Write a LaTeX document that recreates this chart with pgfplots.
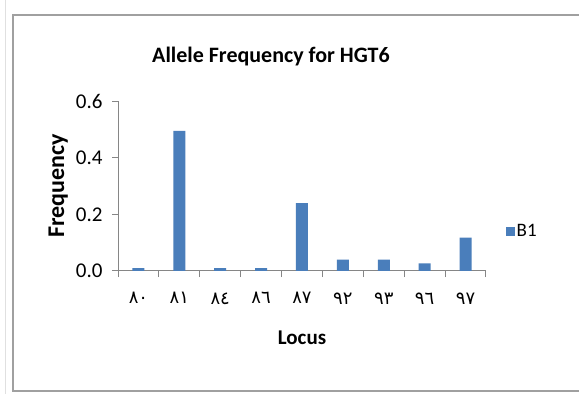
\documentclass[border=0pt]{standalone}
\usepackage{fontspec}
\setmainfont{Carlito}
\newfontfamily\arabicfont[Script=Arabic]{DejaVu Sans}
\usepackage{pgfplots}
\pgfplotsset{compat=1.18}
\definecolor{barblue}{RGB}{74,126,187}
\definecolor{axgray}{RGB}{134,134,134}
\definecolor{framegray}{RGB}{160,160,160}
\begin{document}
\begin{tikzpicture}[x=1pt,y=1pt]
\useasboundingbox (0,0) rectangle (579,394);
\clip (0,0) rectangle (579,394);
\fill[white] (0,0) rectangle (579,394);
\draw[black!12, line width=1pt] (5,0) -- (5,394);
\draw[framegray, line width=2.5pt] (13,3) rectangle (600,379);
\node[font=\fontsize{22}{24}\selectfont\bfseries] at (271,337) {Allele Frequency for HGT6};
\begin{axis}[
  at={(118pt,123pt)}, anchor=south west,
  scale only axis, width=368pt, height=170pt,
  xmin=-0.5, xmax=8.5, ymin=0, ymax=0.6,
  axis lines=left, axis line style={axgray, line width=1pt, -},
  ytick={0,0.2,0.4,0.6},
  yticklabels={0.0,0.2,0.4,0.6},
  xtick={0,...,8},
  xticklabels={{\arabicfont ٨٠},{\arabicfont ٨١},{\arabicfont ٨٤},{\arabicfont ٨٦},{\arabicfont ٨٧},{\arabicfont ٩٢},{\arabicfont ٩٣},{\arabicfont ٩٦},{\arabicfont ٩٧}},
  minor xtick={-0.5,0.5,...,8.5},
  major x tick style={draw=none},
  tick align=outside, tick pos=left,
  major tick length=6pt, minor tick length=6pt,
  tick style={axgray, line width=1pt},
  minor x tick style={axgray, line width=1pt},
  yticklabel style={font=\fontsize{21}{24}\selectfont, /pgf/number format/assume math mode=true, xshift=-6pt},
  xticklabel style={font=\fontsize{18}{20}\selectfont, yshift=-12pt},
  xlabel={\bfseries Locus}, ylabel={\bfseries Frequency},
  xlabel style={font=\fontsize{21}{24}\selectfont, yshift=-20pt},
  ylabel style={font=\fontsize{24}{26}\selectfont, yshift=1pt},
  ybar, bar width=12pt,
  legend style={at={(1.045,0.235)}, anchor=west, draw=none, fill=none, font=\fontsize{19}{20}\selectfont},
  legend image code/.code={\fill[barblue] (0pt,-4.5pt) rectangle (9pt,4.5pt);},
]
\addplot[fill=barblue, draw=none] coordinates {(0,0.01) (1,0.495) (2,0.01) (3,0.01) (4,0.24) (5,0.04) (6,0.04) (7,0.027) (8,0.118)};
\addlegendentry{B1}
\end{axis}
\end{tikzpicture}
\end{document}
